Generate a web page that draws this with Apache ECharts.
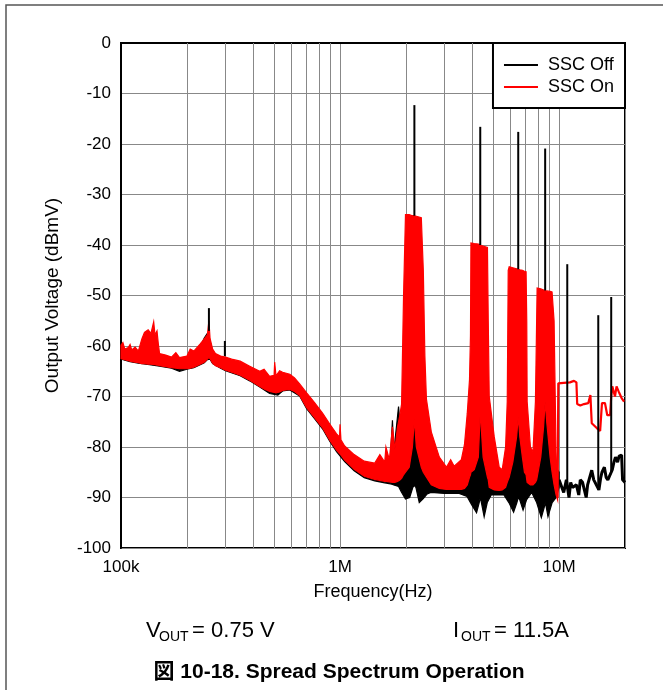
<!DOCTYPE html>
<html>
<head>
<meta charset="utf-8">
<title>Spread Spectrum Operation</title>
<script src="https://cdn.jsdelivr.net/npm/echarts@6.0.0/dist/echarts.min.js"></script>
<style>
  html, body { margin: 0; padding: 0; background: #fff; }
  #chart { width: 663px; height: 690px; }
</style>
</head>
<body>
<div id="chart"></div>
<script>
const FONT = "'Liberation Sans', Arial, 'Noto Sans CJK JP', sans-serif"

// x tick labels (decades) and minor grid frequencies
const xTickText = ['100k', '1M', '10M']
const gridFreq = [2e5, 3e5, 4e5, 5e5, 6e5, 7e5, 8e5, 9e5, 2e6, 3e6, 4e6, 5e6, 6e6, 7e6, 8e6, 9e6]

// SSC On (red) - envelope of the noisy trace, dBmV
const onFreq = [1.00e5, 1.02e5, 1.04e5, 1.08e5, 1.10e5, 1.12e5, 1.16e5, 1.20e5, 1.245e5, 1.28e5, 1.33e5, 1.37e5, 1.41e5, 1.43e5, 1.46e5, 1.48e5, 1.50e5,
  1.60e5, 1.70e5, 1.78e5, 1.85e5, 2.00e5, 2.07e5, 2.15e5, 2.30e5, 2.40e5, 2.48e5, 2.52e5, 2.55e5, 2.62e5, 2.70e5, 2.85e5, 3.00e5, 3.20e5, 3.50e5,
  3.87e5, 4.30e5, 4.50e5, 4.77e5, 5.00e5, 5.03e5, 5.10e5, 5.30e5, 5.47e5, 5.90e5, 6.20e5, 6.54e5, 7.04e5, 7.65e5, 8.32e5, 8.96e5, 9.64e5, 9.95e5,
  1.00e6, 1.01e6, 1.05e6, 1.16e6, 1.29e6, 1.44e6, 1.52e6, 1.60e6, 1.62e6, 1.68e6, 1.735e6, 1.78e6, 1.83e6, 1.87e6, 1.91e6, 1.95e6,
  1.99e6, 2.07e6, 2.14e6, 2.185e6, 2.23e6, 2.35e6, 2.40e6, 2.44e6, 2.48e6, 2.61e6, 2.84e6, 3.06e6, 3.20e6, 3.32e6, 3.58e6, 3.70e6, 3.81e6,
  3.90e6, 3.94e6, 3.96e6, 4.10e6, 4.28e6, 4.34e6, 4.37e6, 4.41e6, 4.50e6, 4.71e6, 4.75e6, 4.80e6, 5.06e6, 5.33e6, 5.50e6, 5.70e6, 5.80e6, 5.86e6,
  5.92e6, 6.15e6, 6.40e6, 6.51e6, 6.62e6, 6.80e6, 6.95e6, 7.07e6, 7.12e6, 7.15e6, 7.40e6, 7.60e6, 7.80e6, 7.90e6, 7.94e6, 8.25e6, 8.50e6,
  8.64e6, 8.78e6, 9.10e6, 9.29e6, 9.49e6, 9.69e6, 9.85e6]
const onHi = [-59.8, -59.3, -60.6, -60.3, -59.7, -60.8, -60.2, -61.0, -58.6, -57.3, -56.8, -57.5, -55.2, -57.8, -57.0, -59.5, -61.5,
  -61.8, -62.2, -61.3, -62.3, -62.0, -60.6, -61.0, -59.6, -58.6, -57.8, -55.0, -58.5, -60.6, -61.5, -62.0, -62.2, -62.6, -63.0,
  -64.0, -65.0, -64.6, -66.0, -65.8, -63.2, -65.9, -64.9, -65.2, -65.6, -66.3, -67.5, -69.3, -71.2, -73.3, -75.4, -77.4, -78.0,
  -75.5, -78.6, -79.8, -81.5, -82.8, -83.2, -81.5, -83.0, -80.0, -82.5, -76.0, -80.5, -76.0, -74.0, -71.5, -50.0,
  -34.0, -34.0, -34.2, -34.2, -34.3, -34.6, -45.0, -62.0, -70.5, -77.0, -82.0, -84.0, -82.5, -83.8, -82.5, -79.5, -73.3,
  -66.7, -58.0, -39.6, -39.7, -39.8, -39.9, -40.0, -40.1, -40.2, -40.5, -55.0, -70.0, -78.0, -84.0, -84.5, -80.0, -71.0, -45.0,
  -44.3, -44.5, -44.7, -44.8, -44.9, -45.0, -45.2, -45.3, -55.0, -71.0, -80.0, -81.0, -71.0, -55.0, -48.5, -48.7, -48.9,
  -49.0, -49.1, -49.2, -49.3, -55.0, -81.0, -89.0]
const onLo = [-62.5, -62.6, -62.7, -62.9, -63.0, -63.1, -63.2, -63.3, -63.5, -63.5, -63.6, -63.6, -63.7, -63.7, -63.8, -63.8, -63.9,
  -64.1, -64.3, -64.4, -64.5, -64.5, -64.4, -64.2, -63.6, -63.2, -62.6, -62.3, -62.5, -63.4, -63.9, -64.3, -64.8, -65.2, -65.8,
  -66.8, -68.0, -68.5, -69.0, -69.2, -69.2, -69.3, -69.1, -68.8, -68.6, -69.0, -69.8, -72.2, -74.2, -76.2, -78.6, -80.6, -81.3,
  -81.4, -81.6, -82.6, -84.4, -85.8, -86.4, -86.6, -86.8, -86.8, -86.9, -87.0, -87.0, -86.8, -86.6, -86.2, -85.5,
  -85.0, -84.0, -80.0, -74.5, -80.0, -84.0, -85.0, -85.5, -86.0, -87.5, -88.2, -88.4, -88.4, -88.4, -88.4, -88.2, -87.5,
  -86.0, -85.5, -85.0, -84.5, -82.0, -76.0, -72.0, -76.0, -82.0, -86.0, -86.5, -88.0, -88.5, -88.6, -88.5, -88.0, -87.0, -86.5,
  -86.0, -83.0, -78.0, -74.0, -78.0, -82.0, -85.0, -85.5, -86.5, -87.0, -87.5, -87.5, -87.0, -86.5, -86.0, -82.0, -76.0,
  -71.0, -75.0, -82.0, -85.0, -87.5, -89.5, -90.5]

// SSC On above 10 MHz (thin trace)
const onTailFreq = [9.85e6, 9.92e6, 1.05e7, 1.12e7, 1.17e7, 1.20e7, 1.21e7, 1.25e7, 1.30e7, 1.36e7, 1.39e7, 1.41e7, 1.49e7, 1.54e7,
  1.56e7, 1.57e7, 1.62e7, 1.66e7, 1.71e7, 1.73e7, 1.75e7, 1.78e7, 1.80e7, 1.83e7, 1.87e7, 1.93e7, 1.98e7]
const onTailDb = [-90.0, -67.4, -67.3, -67.2, -66.9, -67.2, -71.5, -71.8, -71.5, -71.3, -69.7, -75.3, -76.3, -76.8,
  -77.0, -71.3, -71.3, -73.7, -73.7, -70.0, -68.0, -68.0, -70.0, -68.0, -69.0, -70.3, -71.0]

// SSC Off (black) - envelope of the noisy trace, dBmV
const offFreq = [1.00e5, 1.10e5, 1.20e5, 1.35e5, 1.50e5, 1.70e5, 1.85e5, 2.00e5, 2.15e5, 2.30e5, 2.40e5, 2.48e5, 2.55e5, 2.62e5,
  2.85e5, 3.00e5, 3.50e5, 3.87e5, 4.30e5, 4.77e5, 5.20e5, 5.47e5, 5.90e5, 6.54e5, 7.04e5, 7.65e5, 8.32e5, 8.96e5, 9.64e5,
  1.05e6, 1.16e6, 1.29e6, 1.44e6, 1.60e6, 1.70e6, 1.735e6, 1.76e6, 1.85e6, 1.90e6, 1.99e6, 2.08e6, 2.15e6, 2.185e6, 2.22e6,
  2.30e6, 2.40e6, 2.50e6, 2.60e6, 3.00e6, 3.50e6, 3.80e6, 4.00e6, 4.20e6, 4.32e6, 4.367e6, 4.42e6, 4.55e6, 4.70e6, 4.90e6, 5.20e6, 5.60e6,
  5.90e6, 6.20e6, 6.42e6, 6.51e6, 6.62e6, 6.85e6, 7.10e6, 7.50e6, 7.90e6, 8.30e6, 8.55e6, 8.64e6, 8.75e6, 8.90e6, 9.30e6, 9.70e6, 1.00e7]
const offHi = [-60.5, -61.0, -61.4, -61.7, -62.0, -62.4, -62.6, -62.4, -61.5, -60.2, -58.4, -57.5, -59.0, -61.2,
  -62.6, -62.8, -63.6, -64.6, -65.6, -66.6, -66.2, -65.8, -66.2, -68.1, -69.9, -71.8, -73.9, -76.0, -78.0,
  -80.4, -82.1, -83.4, -83.8, -83.7, -82.0, -74.7, -81.0, -72.0, -78.0, -82.0, -80.0, -76.0, -73.7, -76.0,
  -80.0, -83.0, -85.0, -86.5, -86.5, -86.5, -85.0, -83.0, -80.0, -76.0, -71.3, -76.0, -80.0, -83.0, -85.5, -86.5, -85.5,
  -83.0, -79.0, -76.0, -73.3, -76.0, -79.0, -82.0, -84.5, -81.0, -77.0, -73.0, -70.3, -73.0, -76.0, -80.0, -84.0, -85.0]
const offLo = [-62.6, -63.1, -63.4, -63.7, -64.0, -64.4, -65.0, -64.6, -64.3, -63.7, -63.3, -62.7, -62.6, -63.5,
  -64.4, -64.9, -65.9, -66.9, -68.1, -69.4, -69.7, -68.9, -68.7, -69.9, -72.4, -74.4, -76.4, -78.8, -80.9,
  -82.9, -84.7, -86.1, -86.7, -87.1, -87.3, -87.4, -87.5, -87.8, -88.8, -90.3, -90.0, -88.0, -87.6, -88.0,
  -91.0, -90.2, -89.3, -89.0, -89.2, -89.2, -89.8, -91.5, -93.0, -91.0, -90.0, -91.0, -93.8, -91.0, -89.5, -89.5, -89.5,
  -91.0, -92.9, -91.0, -90.0, -90.5, -92.5, -90.5, -89.0, -91.0, -94.0, -92.0, -91.0, -92.0, -93.8, -91.0, -90.0, -88.0]

// SSC Off above 10 MHz (thin trace)
const offTailFreq = [1.00e7, 1.03e7, 1.05e7, 1.08e7, 1.11e7, 1.13e7, 1.15e7, 1.20e7, 1.23e7, 1.25e7, 1.28e7, 1.33e7, 1.35e7, 1.37e7,
  1.41e7, 1.44e7, 1.46e7, 1.52e7, 1.55e7, 1.57e7, 1.61e7, 1.64e7, 1.67e7, 1.73e7, 1.75e7, 1.78e7, 1.81e7, 1.85e7, 1.88e7,
  1.93e7, 1.95e7, 2.00e7]
const offTailDb = [-86.5, -88.0, -89.0, -86.5, -90.0, -87.0, -88.0, -87.5, -89.5, -86.5, -87.0, -90.0, -87.5, -86.5,
  -84.6, -86.5, -87.0, -88.5, -86.0, -85.0, -84.0, -86.0, -86.5, -85.0, -84.5, -83.0, -82.0, -83.0, -81.8,
  -81.6, -86.5, -87.0]

// SSC Off narrow tones
const spikeFreq = [2.52e5, 2.98e5, 2.185e6, 4.367e6, 6.51e6, 8.64e6, 1.09e7, 1.51e7, 1.73e7]
const spikeTop = [-52.5, -59.0, -12.3, -16.6, -17.6, -20.9, -43.8, -53.9, -50.3]
const spikeBase = [-57.0, -62.0, -34.2, -40.0, -44.8, -49.0, -88.0, -88.5, -85.0]

function bandSeries (name, freq, hi, lo, color, z) {
  return {
    name: name,
    type: 'custom',
    z: z,
    silent: true,
    itemStyle: { color: color },
    encode: { x: 0, y: [1, 2] },
    data: freq.map(function (f, i) { return [f, hi[i], lo[i]] }),
    renderItem: function (params, api) {
      if (params.dataIndex !== 0) {
        return null
      }
      const top = []
      const bottom = []
      for (let i = 0; i < freq.length; i++) {
        top.push(api.coord([freq[i], hi[i]]))
        bottom.unshift(api.coord([freq[i], lo[i]]))
      }
      return {
        type: 'polygon',
        shape: { points: top.concat(bottom) },
        style: { fill: color, stroke: color, lineWidth: 1.2 }
      }
    }
  }
}

const chart = echarts.init(document.getElementById('chart'))
chart.setOption({
  animation: false,
  backgroundColor: '#fff',
  textStyle: { fontFamily: FONT },
  grid: {
    left: 121,
    top: 43,
    right: 38,
    bottom: 142,
    show: true,
    borderColor: '#000',
    borderWidth: 2,
    outerBoundsMode: 'none'
  },
  legend: {
    orient: 'vertical',
    right: 38,
    top: 43,
    padding: [13, 11, 12, 11],
    itemGap: 4,
    itemWidth: 34,
    itemHeight: 2,
    icon: 'rect',
    borderColor: '#000',
    borderWidth: 2,
    backgroundColor: '#fff',
    selectedMode: false,
    textStyle: { fontSize: 18, color: '#000', fontFamily: FONT, padding: [0, 0, 0, 5] },
    data: [
      { name: 'SSC Off', itemStyle: { color: '#000' } },
      { name: 'SSC On', itemStyle: { color: '#ff0000' } }
    ]
  },
  xAxis: {
    type: 'log',
    logBase: 10,
    min: 1e5,
    max: 2e7,
    name: 'Frequency(Hz)',
    nameLocation: 'middle',
    nameGap: 35,
    nameTextStyle: { fontSize: 18, color: '#000', fontFamily: FONT },
    axisLine: { show: true, lineStyle: { color: '#000', width: 2 } },
    axisTick: { show: false },
    axisLabel: {
      fontSize: 17,
      color: '#000',
      fontFamily: FONT,
      margin: 11,
      formatter: function (v) {
        const e = Math.log10(v)
        if (Math.abs(e - Math.round(e)) > 1e-6) {
          return ''
        }
        return xTickText[Math.round(e) - 5] || ''
      }
    },
    splitLine: { show: true, lineStyle: { color: '#888', width: 1 } }
  },
  yAxis: {
    type: 'value',
    min: -100,
    max: 0,
    interval: 10,
    name: 'Output Voltage (dBmV)',
    nameLocation: 'middle',
    nameGap: 59,
    nameTextStyle: { fontSize: 19, color: '#000', fontFamily: FONT },
    axisLine: { show: true, lineStyle: { color: '#000', width: 2 } },
    axisTick: { show: false },
    axisLabel: { fontSize: 17, color: '#000', fontFamily: FONT, margin: 10 },
    splitLine: { show: true, lineStyle: { color: '#888', width: 1 } }
  },
  graphic: [
    { type: 'rect', silent: true, shape: { x: 6, y: 5, width: 720, height: 720 }, style: { fill: 'none', stroke: '#555', lineWidth: 1.5 } },
    { type: 'text', x: 146, y: 631, style: { text: 'V', fontSize: 22, fontFamily: FONT, fill: '#000', verticalAlign: 'middle' } },
    { type: 'text', x: 159, y: 637, style: { text: 'OUT', fontSize: 14, fontFamily: FONT, fill: '#000', verticalAlign: 'middle' } },
    { type: 'text', x: 186, y: 631, style: { text: ' = 0.75 V', fontSize: 22, fontFamily: FONT, fill: '#000', verticalAlign: 'middle' } },
    { type: 'text', x: 453, y: 631, style: { text: 'I', fontSize: 22, fontFamily: FONT, fill: '#000', verticalAlign: 'middle' } },
    { type: 'text', x: 461, y: 637, style: { text: 'OUT', fontSize: 14, fontFamily: FONT, fill: '#000', verticalAlign: 'middle' } },
    { type: 'text', x: 488, y: 631, style: { text: ' = 11.5A', fontSize: 22, fontFamily: FONT, fill: '#000', verticalAlign: 'middle' } },
    { type: 'text', x: 339, y: 672, style: { text: '図 10-18. Spread Spectrum Operation', fontSize: 21, fontWeight: 'bold', fontFamily: FONT, fill: '#000', align: 'center', verticalAlign: 'middle' } }
  ],
  series: [
    bandSeries('SSC Off', offFreq, offHi, offLo, '#000', 2),
    {
      name: 'SSC Off',
      type: 'line',
      z: 2,
      silent: true,
      showSymbol: false,
      lineStyle: { color: '#000', width: 3 },
      itemStyle: { color: '#000' },
      data: offTailFreq.map(function (f, i) { return [f, offTailDb[i]] }),
      markLine: {
        silent: true,
        z: 1,
        symbol: 'none',
        label: { show: false },
        lineStyle: { color: '#888', width: 1, type: 'solid' },
        data: gridFreq.map(function (f) { return { xAxis: f } })
      }
    },
    bandSeries('SSC On', onFreq, onHi, onLo, '#ff0000', 4),
    {
      name: 'SSC On',
      type: 'line',
      z: 4,
      silent: true,
      showSymbol: false,
      lineStyle: { color: '#ff0000', width: 2.2 },
      itemStyle: { color: '#ff0000' },
      data: onTailFreq.map(function (f, i) { return [f, onTailDb[i]] })
    },
    {
      name: 'SSC Off',
      type: 'custom',
      z: 5,
      silent: true,
      itemStyle: { color: '#000' },
      encode: { x: 0, y: [1, 2] },
      data: spikeFreq.map(function (f, i) { return [f, spikeTop[i], spikeBase[i]] }),
      renderItem: function (params, api) {
        const p1 = api.coord([api.value(0), api.value(1)])
        const p2 = api.coord([api.value(0), api.value(2)])
        return {
          type: 'line',
          shape: { x1: p1[0], y1: p1[1], x2: p2[0], y2: p2[1] },
          style: { stroke: '#000', lineWidth: 2 }
        }
      }
    }
  ]
})
</script>
</body>
</html>
